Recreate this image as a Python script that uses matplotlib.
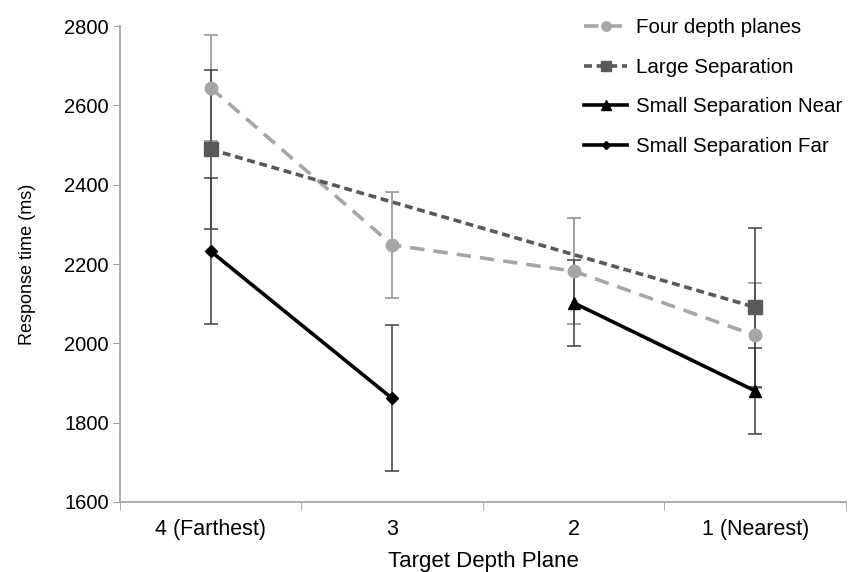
import numpy as np
import matplotlib
matplotlib.use("Agg")
import matplotlib.pyplot as plt
from matplotlib.lines import Line2D

plt.rcParams['font.family'] = ['Liberation Sans', 'DejaVu Sans']

# categories (left to right)
planes = ["4 (Farthest)", "3", "2", "1 (Nearest)"]

# mean response times (ms), nan = condition not tested at that plane
four_planes = [2644, 2248, 2182, 2020]
large_sep = [2489, np.nan, np.nan, 2091]
small_near = [np.nan, np.nan, 2102, 1880]
small_far = [2232, 1861, np.nan, np.nan]

# error bar half widths (ms)
four_err = [133, 133, 133, 133]
large_err = [200, 200, 200, 200]
near_err = [108, 108, 108, 108]
far_err = [184, 184, 184, 184]

series = [
    ("Four depth planes", four_planes, four_err, "#a6a6a6", (0, (4, 2.5)), "o", 9, "#8c8c8c"),
    ("Large Separation", large_sep, large_err, "#595959", (0, (2.2, 1.3)), "s", 10, "#404040"),
    ("Small Separation Near", small_near, near_err, "black", "-", "^", 9, "#404040"),
    ("Small Separation Far", small_far, far_err, "black", "-", "D", 6, "#404040"),
]

fig = plt.figure(figsize=(8.48, 5.72), dpi=100)
ax = fig.add_axes([0.1415, 0.1224, 0.8561, 0.8321])

x = np.arange(len(planes))
handles = []
for name, vals, err, col, ls, mk, ms, ecol in series:
    vals = np.array(vals, dtype=float)
    err = np.array(err, dtype=float)
    ok = ~np.isnan(vals)
    ax.errorbar(x[ok], vals[ok], yerr=err[ok], fmt="none", ecolor=ecol,
                elinewidth=1.1, capsize=5, capthick=1.1, zorder=2)
    ax.plot(x[ok], vals[ok], color=col, linestyle=ls, linewidth=2.6,
            marker=mk, markersize=ms, markerfacecolor=col, markeredgecolor=col,
            zorder=3)
    handles.append(Line2D([0], [0], color=col, linestyle=ls, linewidth=2.6,
                          marker=mk, markersize=ms * 0.75,
                          markerfacecolor=col, markeredgecolor=col))

ax.set_xlim(-0.5, 3.5)
ax.set_ylim(1600, 2800)
ax.set_yticks(np.arange(1600, 2801, 200))
ax.set_xticks(x)
ax.set_xticklabels(planes)
ax.set_xticks(np.arange(-0.5, 3.6, 1), minor=True)
ax.tick_params(axis="x", which="major", length=0, pad=12, labelsize=15.5)
ax.tick_params(axis="x", which="minor", length=6, color="#a0a0a0", direction="out")
ax.tick_params(axis="y", length=5, color="#a0a0a0", labelsize=14.5, pad=3)

for side in ["top", "right"]:
    ax.spines[side].set_visible(False)
for side in ["left", "bottom"]:
    ax.spines[side].set_color("#a0a0a0")
    ax.spines[side].set_linewidth(1.2)

ax.set_xlabel("Target Depth Plane", fontsize=16, labelpad=8)
ax.set_ylabel("Response time (ms)", fontsize=13, labelpad=20)

ax.legend(handles, [s[0] for s in series], loc="upper right",
          bbox_to_anchor=(1.02, 1.055), frameon=False, fontsize=14.8,
          handlelength=2.1, handletextpad=0.4, labelspacing=1.0)

fig.savefig("out.png", dpi=100)
